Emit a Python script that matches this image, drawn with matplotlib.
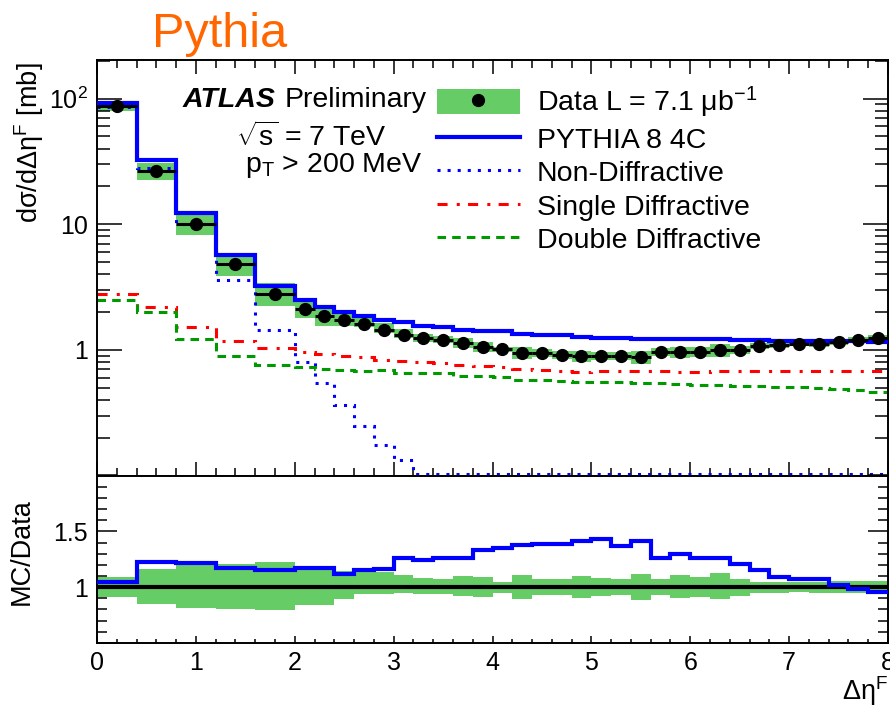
import numpy as np
import matplotlib
matplotlib.use("Agg")
import matplotlib.pyplot as plt
from matplotlib.patches import Patch
from matplotlib.lines import Line2D
from matplotlib.ticker import FixedLocator, FixedFormatter, MultipleLocator, LogLocator, NullFormatter

plt.rcParams['font.family'] = ['Liberation Sans', 'DejaVu Sans']
plt.rcParams['mathtext.fontset'] = 'custom'
plt.rcParams['mathtext.rm'] = 'Liberation Sans'
plt.rcParams['mathtext.it'] = 'Liberation Sans:italic'
plt.rcParams['mathtext.bf'] = 'Liberation Sans:bold'

# ---------------- data ----------------
bin_edges = np.array([0.0, 0.4, 0.8, 1.2, 1.6] + list(np.round(np.arange(2.0, 8.001, 0.2), 1)))

data_xsec = [87.5, 26.5, 10.1, 4.85, 2.8,
             2.12, 1.85, 1.74, 1.61, 1.445, 1.32, 1.24, 1.20, 1.13, 1.06,
             1.01, 0.95, 0.94, 0.91, 0.895, 0.895, 0.90, 0.875, 0.96, 0.96,
             0.96, 0.99, 1.0, 1.075, 1.095, 1.115, 1.115, 1.145, 1.20, 1.24]

pythia_4c = [92.0, 32.5, 12.3, 5.67, 3.25,
             2.50, 2.19, 1.99, 1.85, 1.74, 1.66, 1.54, 1.53, 1.43, 1.42,
             1.41, 1.33, 1.32, 1.31, 1.27, 1.24, 1.24, 1.23, 1.23, 1.22,
             1.21, 1.21, 1.20, 1.19, 1.18, 1.18, 1.17, 1.17, 1.17, 1.165]

non_diffractive = [86.0, 28.0, 10.0, 3.6, 1.45,
                   0.80, 0.54, 0.363, 0.25, 0.176, 0.134, 0.09, 0.08, 0.07, 0.065,
                   0.06, 0.055, 0.05, 0.045, 0.04, 0.04, 0.035, 0.035, 0.03, 0.03,
                   0.03, 0.025, 0.025, 0.025, 0.02, 0.02, 0.02, 0.02, 0.02, 0.02]

single_diffractive = [2.8, 2.2, 1.52, 1.18, 1.04,
                      0.97, 0.93, 0.895, 0.885, 0.83, 0.816, 0.806, 0.79, 0.76, 0.745,
                      0.736, 0.70, 0.69, 0.68, 0.67, 0.68, 0.68, 0.68, 0.675, 0.67,
                      0.67, 0.68, 0.68, 0.675, 0.68, 0.675, 0.68, 0.675, 0.68, 0.675]

double_diffractive = [2.48, 1.99, 1.22, 0.895, 0.76,
                      0.73, 0.70, 0.69, 0.683, 0.69, 0.65, 0.65, 0.655, 0.62, 0.617,
                      0.605, 0.58, 0.575, 0.565, 0.56, 0.55, 0.55, 0.545, 0.54, 0.535,
                      0.53, 0.525, 0.52, 0.515, 0.51, 0.505, 0.50, 0.49, 0.48, 0.465]

mc_over_data = [1.05, 1.225, 1.22, 1.17, 1.155,
                1.175, 1.175, 1.117, 1.15, 1.165, 1.26, 1.245, 1.265, 1.26, 1.335,
                1.35, 1.375, 1.39, 1.39, 1.41, 1.43, 1.37, 1.415, 1.265, 1.30,
                1.265, 1.257, 1.21, 1.15, 1.09, 1.072, 1.077, 1.02, 0.985, 0.955]

unc_up = [1.095, 1.16, 1.20, 1.21, 1.225,
          1.175, 1.175, 1.147, 1.14, 1.14, 1.11, 1.086, 1.075, 1.10, 1.095,
          1.05, 1.11, 1.075, 1.075, 1.10, 1.08, 1.072, 1.117, 1.075, 1.105,
          1.09, 1.125, 1.075, 1.05, 1.05, 1.045, 1.05, 1.055, 1.055, 1.055]

unc_down = [0.915, 0.85, 0.817, 0.80, 0.795,
            0.84, 0.84, 0.895, 0.937, 0.937, 0.946, 0.94, 0.94, 0.92, 0.91,
            0.95, 0.895, 0.93, 0.93, 0.90, 0.92, 0.93, 0.886, 0.93, 0.90,
            0.915, 0.89, 0.925, 0.95, 0.952, 0.96, 0.95, 0.95, 0.945, 0.95]

x_ticks = [0, 1, 2, 3, 4, 5, 6, 7, 8]
y_ticks_main = [1, 10, 100]
y_ticklabels_main = ['1', '10', '10$^{2}$']
y_ticks_ratio = [0.5, 1.0, 1.5, 2.0]
y_ticklabels_ratio = ['', '1', '1.5', '']

# ---------------- style ----------------
BAND = '#66cc66'
BLUE = '#0000ff'
RED = '#ff0000'
DGREEN = '#009900'
FS = 18      # tick labels
FT = 20.5    # legend / annotations
FA = 19.5    # axis titles

W, H = 890, 707
fig = plt.figure(figsize=(W / 100, H / 100), dpi=100)

def fx(px):
    return px / W

def fy(py):
    return 1 - py / H

ax = fig.add_axes([fx(97), fy(475.5), fx(888) - fx(97), (475.5 - 60) / H])
axr = fig.add_axes([fx(97), fy(643), fx(888) - fx(97), (643 - 475.5) / H])

edges = bin_edges
centers = 0.5 * (edges[1:] + edges[:-1])
halfw = 0.5 * (edges[1:] - edges[:-1])
d = np.array(data_xsec)
ylo, yhi = 0.1, 203

# main panel
ax.stairs(d * np.array(unc_up), edges, baseline=d * np.array(unc_down), fill=True,
          color=BAND, lw=0, zorder=1)
ax.stairs(np.maximum(non_diffractive, ylo * 1.02), edges, color=BLUE, lw=2.2,
          linestyle=(0, (1, 2.3)), zorder=2, baseline=None)
ax.stairs(single_diffractive, edges, color=RED, lw=2.2,
          linestyle=(0, (3.3, 3.0, 1.0, 2.7)), zorder=2, baseline=None)
ax.stairs(double_diffractive, edges, color=DGREEN, lw=2.2,
          linestyle=(0, (2.8, 2.0)), zorder=2, baseline=None)
ax.stairs(pythia_4c, edges, color=BLUE, lw=3.0, zorder=3, baseline=None)
ax.errorbar(centers, d, xerr=halfw, fmt='o', color='k', ms=8.5, elinewidth=2.2,
            capsize=0, zorder=4)

ax.set_yscale('log')
ax.set_xlim(0, 8)
ax.set_ylim(ylo, yhi)
ax.yaxis.set_major_locator(FixedLocator(y_ticks_main))
ax.yaxis.set_major_formatter(FixedFormatter(y_ticklabels_main))
ax.yaxis.set_minor_locator(LogLocator(base=10, subs=np.arange(2, 10)))
ax.yaxis.set_minor_formatter(NullFormatter())
ax.xaxis.set_major_locator(FixedLocator(x_ticks))
ax.xaxis.set_minor_locator(MultipleLocator(0.2))
ax.tick_params(which='both', direction='in', top=True, right=True, labelbottom=False,
               width=1.1, labelsize=FS)
ax.tick_params(axis='x', which='major', length=10)
ax.tick_params(axis='x', which='minor', length=5.8)
ax.tick_params(axis='y', which='major', length=18, pad=6.5)
ax.tick_params(axis='y', which='minor', length=9.4)
for s in ax.spines.values():
    s.set_linewidth(1.4)

# ratio panel
axr.stairs(unc_up, edges, baseline=unc_down, fill=True, color=BAND, lw=0, zorder=1)
axr.axhline(1.0, color='k', lw=3.0, zorder=2)
axr.stairs(mc_over_data, edges, color=BLUE, lw=3.0, zorder=3, baseline=None)
axr.set_xlim(0, 8)
axr.set_ylim(0.5, 2.0)
axr.yaxis.set_major_locator(FixedLocator(y_ticks_ratio))
axr.yaxis.set_major_formatter(FixedFormatter(y_ticklabels_ratio))
axr.yaxis.set_minor_locator(MultipleLocator(0.1))
axr.xaxis.set_major_locator(FixedLocator(x_ticks))
axr.xaxis.set_major_formatter(FixedFormatter([str(t) for t in x_ticks]))
axr.xaxis.set_minor_locator(MultipleLocator(0.2))
axr.tick_params(which='both', direction='in', top=False, right=True, width=1.1,
                labelsize=FS)
axr.tick_params(axis='x', which='major', length=5, pad=6)
axr.tick_params(axis='x', which='minor', length=2.9)
axr.tick_params(axis='y', which='major', length=14.4, pad=6.5)
axr.tick_params(axis='y', which='minor', length=7.2)
for s in axr.spines.values():
    s.set_linewidth(1.4)

# texts
fig.text(fx(152), fy(47), 'Pythia', color='#ff6600', fontsize=35, va='baseline', ha='left')
fig.text(fx(29), fy(62), 'dσ/dΔη$^{\\mathrm{F}}$ [mb]', rotation=90,
         fontsize=FA, ha='center', va='top')
fig.text(fx(22), fy(552), 'MC/Data', rotation=90, fontsize=FA, ha='center', va='center')
fig.text(fx(888), fy(700), 'Δη$^{\\mathrm{F}}$', fontsize=FA, ha='right', va='baseline')
fig.text(fx(183), fy(107), 'ATLAS', fontsize=FT, weight='bold', style='italic', va='baseline')
fig.text(fx(285), fy(107), 'Preliminary', fontsize=FT, va='baseline')
fig.text(fx(236), fy(146), r'$\sqrt{\mathrm{s}}$ = 7 TeV', fontsize=FT, va='baseline')
fig.text(fx(245), fy(172), r'p$_{\mathrm{T}}$ > 200 MeV', fontsize=FT, va='baseline')

# legend
handles = [
    (Patch(facecolor=BAND, edgecolor='none'),
     Line2D([], [], marker='o', color='k', ls='none', ms=8.5)),
    Line2D([], [], color=BLUE, lw=3.0),
    Line2D([], [], color=BLUE, lw=2.2, linestyle=(0, (1, 2.3))),
    Line2D([], [], color=RED, lw=2.2, linestyle=(0, (3.3, 3.0, 1.0, 2.7))),
    Line2D([], [], color=DGREEN, lw=2.2, linestyle=(0, (2.8, 2.0))),
]
labels = ['Data L = 7.1 μb$^{\\mathrm{-1}}$', 'PYTHIA 8 4C', 'Non-Diffractive',
          'Single Diffractive', 'Double Diffractive']
leg = fig.legend(handles, labels, loc='upper left', bbox_to_anchor=(fx(437), fy(85)),
                 frameon=False, fontsize=FT, handlelength=2.91, handletextpad=0.6,
                 labelspacing=0.19, borderpad=0, borderaxespad=0, handleheight=0.95)

fig.savefig('out.png', dpi=100)
